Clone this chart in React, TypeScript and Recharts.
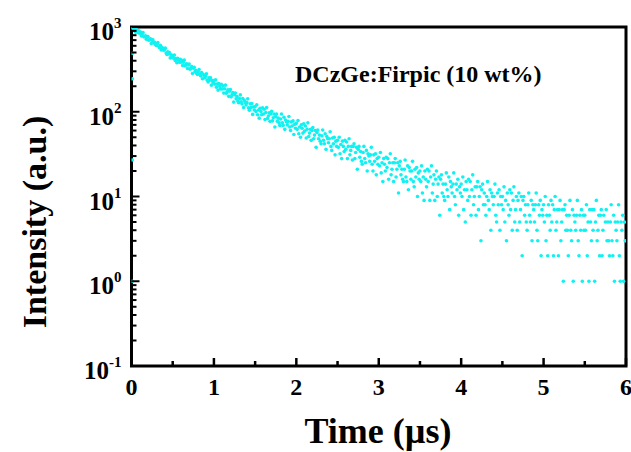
import React from 'react';
import { ScatterChart, Scatter, XAxis, YAxis, ReferenceArea } from 'recharts';

// Time axis of the decay (µs)
const timeUs: number[] = [
  0,0.01,0.02,0.03,0.04,0.05,0.06,0.07,0.08,0.09,
  0.1,0.11,0.12,0.13,0.14,0.15,0.16,0.17,0.18,0.19,
  0.2,0.21,0.22,0.23,0.24,0.25,0.26,0.27,0.28,0.29,
  0.3,0.31,0.32,0.33,0.34,0.35,0.36,0.37,0.38,0.39,
  0.4,0.41,0.42,0.43,0.44,0.45,0.46,0.47,0.48,0.49,
  0.5,0.51,0.52,0.53,0.54,0.55,0.56,0.57,0.58,0.59,
  0.6,0.61,0.62,0.63,0.64,0.65,0.66,0.67,0.68,0.69,
  0.7,0.71,0.72,0.73,0.74,0.75,0.76,0.77,0.78,0.79,
  0.8,0.81,0.82,0.83,0.84,0.85,0.86,0.87,0.88,0.89,
  0.9,0.91,0.92,0.93,0.94,0.95,0.96,0.97,0.98,0.99,
  1,1.01,1.02,1.03,1.04,1.05,1.06,1.07,1.08,1.09,
  1.1,1.11,1.12,1.13,1.14,1.15,1.16,1.17,1.18,1.19,
  1.2,1.21,1.22,1.23,1.24,1.25,1.26,1.27,1.28,1.29,
  1.3,1.31,1.32,1.33,1.34,1.35,1.36,1.37,1.38,1.39,
  1.4,1.41,1.42,1.43,1.44,1.45,1.46,1.47,1.48,1.49,
  1.5,1.51,1.52,1.53,1.54,1.55,1.56,1.57,1.58,1.59,
  1.6,1.61,1.62,1.63,1.64,1.65,1.66,1.67,1.68,1.69,
  1.7,1.71,1.72,1.73,1.74,1.75,1.76,1.77,1.78,1.79,
  1.8,1.81,1.82,1.83,1.84,1.85,1.86,1.87,1.88,1.89,
  1.9,1.91,1.92,1.93,1.94,1.95,1.96,1.97,1.98,1.99,
  2,2.01,2.02,2.03,2.04,2.05,2.06,2.07,2.08,2.09,
  2.1,2.11,2.12,2.13,2.14,2.15,2.16,2.17,2.18,2.19,
  2.2,2.21,2.22,2.23,2.24,2.25,2.26,2.27,2.28,2.29,
  2.3,2.31,2.32,2.33,2.34,2.35,2.36,2.37,2.38,2.39,
  2.4,2.41,2.42,2.43,2.44,2.45,2.46,2.47,2.48,2.49,
  2.5,2.51,2.52,2.53,2.54,2.55,2.56,2.57,2.58,2.59,
  2.6,2.61,2.62,2.63,2.64,2.65,2.66,2.67,2.68,2.69,
  2.7,2.71,2.72,2.73,2.74,2.75,2.76,2.77,2.78,2.79,
  2.8,2.81,2.82,2.83,2.84,2.85,2.86,2.87,2.88,2.89,
  2.9,2.91,2.92,2.93,2.94,2.95,2.96,2.97,2.98,2.99,
  3,3.01,3.02,3.03,3.04,3.05,3.06,3.07,3.08,3.09,
  3.1,3.11,3.12,3.13,3.14,3.15,3.16,3.17,3.18,3.19,
  3.2,3.21,3.22,3.23,3.24,3.25,3.26,3.27,3.28,3.29,
  3.3,3.31,3.32,3.33,3.34,3.35,3.36,3.37,3.38,3.39,
  3.4,3.41,3.42,3.43,3.44,3.45,3.46,3.47,3.48,3.49,
  3.5,3.51,3.52,3.53,3.54,3.55,3.56,3.57,3.58,3.59,
  3.6,3.61,3.62,3.63,3.64,3.65,3.66,3.67,3.68,3.69,
  3.7,3.71,3.72,3.73,3.74,3.75,3.76,3.77,3.78,3.79,
  3.8,3.81,3.82,3.83,3.84,3.85,3.86,3.87,3.88,3.89,
  3.9,3.91,3.92,3.93,3.94,3.95,3.96,3.97,3.98,3.99,
  4,4.01,4.02,4.03,4.04,4.05,4.06,4.07,4.08,4.09,
  4.1,4.11,4.12,4.13,4.14,4.15,4.16,4.17,4.18,4.19,
  4.2,4.21,4.22,4.23,4.24,4.25,4.26,4.27,4.28,4.29,
  4.3,4.31,4.32,4.33,4.34,4.35,4.36,4.37,4.38,4.39,
  4.4,4.41,4.42,4.43,4.44,4.45,4.46,4.47,4.48,4.49,
  4.5,4.51,4.52,4.53,4.54,4.55,4.56,4.57,4.58,4.59,
  4.6,4.61,4.62,4.63,4.64,4.65,4.66,4.67,4.68,4.69,
  4.7,4.71,4.72,4.73,4.74,4.75,4.76,4.77,4.78,4.79,
  4.8,4.81,4.82,4.83,4.84,4.85,4.86,4.87,4.88,4.89,
  4.9,4.91,4.92,4.93,4.94,4.95,4.96,4.97,4.98,4.99,
  5,5.01,5.02,5.03,5.04,5.05,5.06,5.07,5.08,5.09,
  5.1,5.11,5.12,5.13,5.14,5.15,5.16,5.17,5.18,5.19,
  5.2,5.21,5.22,5.23,5.24,5.25,5.26,5.27,5.28,5.29,
  5.3,5.31,5.32,5.33,5.34,5.35,5.36,5.37,5.38,5.39,
  5.4,5.41,5.42,5.43,5.44,5.45,5.46,5.47,5.48,5.49,
  5.5,5.51,5.52,5.53,5.54,5.55,5.56,5.57,5.58,5.59,
  5.6,5.61,5.62,5.63,5.64,5.65,5.66,5.67,5.68,5.69,
  5.7,5.71,5.72,5.73,5.74,5.75,5.76,5.77,5.78,5.79,
  5.8,5.81,5.82,5.83,5.84,5.85,5.86,5.87,5.88,5.89,
  5.9,5.91,5.92,5.93,5.94,5.95,5.96,5.97,5.98,5.99,
];

// Photon counts per channel (a.u.)
const counts: number[] = [
  990,969,995,916,942,866,932,893,855,900,
  842,869,784,825,858,765,773,788,718,763,
  771,698,711,726,638,696,704,648,661,623,
  604,630,655,593,571,607,535,577,558,531,
  541,563,494,474,509,481,501,432,470,446,
  461,429,466,403,425,379,427,405,383,417,
  384,406,352,383,408,348,356,368,324,356,
  365,317,328,342,283,326,334,297,308,285,
  275,296,315,276,264,291,245,277,266,251,
  263,281,236,225,252,235,252,206,234,221,
  234,212,238,195,212,180,215,200,186,211,
  186,202,166,187,206,165,172,181,152,175,
  183,150,159,169,130,159,166,142,151,134,
  128,143,158,131,124,143,112,136,129,120,
  128,142,111,104,124,112,125,93,114,105,
  115,101,121,92,105,84,110,101,92,111,
  94,107,81,98,112,83,89,97,77,94,
  101,78,85,94,66,88,94,77,84,74,
  69,82,94,74,69,86,62,80,76,70,
  77,88,66,60,76,68,78,54,71,64,
  73,62,79,55,66,50,70,64,56,72,
  59,68,49,62,74,51,56,62,46,60,
  65,48,53,60,38,57,61,48,53,45,
  42,52,61,46,42,55,36,51,48,43,
  48,58,39,35,49,42,50,31,45,39,
  46,38,50,32,41,28,45,39,34,46,
  36,44,28,39,48,31,35,39,27,39,
  42,28,33,38,21,36,39,29,34,26,
  24,33,39,28,25,35,20,32,30,26,
  31,38,24,20,31,26,32,18,28,24,
  29,23,33,19,25,15,28,24,20,29,
  22,28,16,25,32,18,21,25,15,25,
  28,17,21,25,11,23,26,18,21,16,
  15,21,27,17,15,23,12,22,20,16,
  20,26,15,13,21,17,22,10,19,16,
  20,15,23,11,17,9,20,16,13,21,
  15,20,9,17,23,11,14,18,9,16,
  20,10,14,17,6,16,18,11,14,10,
  9,14,19,12,10,17,7,15,13,11,
  14,19,10,8,14,12,16,6,13,11,
  14,10,17,7,12,5,15,12,9,16,
  10,15,6,12,18,8,10,13,6,13,
  15,7,10,13,3,12,14,8,11,8,
  6,10,15,9,7,12,4,11,10,8,
  10,14,6,5,11,8,12,4,10,8,
  10,7,13,5,9,3,11,8,6,12,
  7,11,4,9,13,5,7,10,4,9,
  11,5,7,10,2,9,10,6,8,5,
  4,8,11,6,5,9,3,8,7,5,
  8,11,4,3,8,6,9,2,7,6,
  8,5,10,3,6,2,8,6,4,9,
  5,8,2,7,10,4,5,7,2,7,
  9,3,5,7,1,7,8,4,6,4,
  2,6,9,4,3,7,1,6,5,4,
  6,9,3,2,6,4,7,1,6,4,
  6,4,8,2,5,1,7,5,3,7,
  4,7,1,5,9,3,4,6,2,6,
  7,2,4,6,0,5,7,3,5,3,
  2,5,8,3,2,6,1,5,4,3,
  5,8,2,1,5,4,6,1,5,3,
];

// Rising-edge points recorded at the start of the pulse
const riseTimeUs: number[] = [0.01, 0.01, 0.01, 0.01];
const riseCounts: number[] = [490, 245, 27, 1];

const xTicks: number[] = [0, 0.5, 1, 1.5, 2, 2.5, 3, 3.5, 4, 4.5, 5, 5.5, 6];
const xLabeledTicks: number[] = [0, 1, 2, 3, 4, 5, 6];
const yMajorTicks: number[] = [0.1, 1, 10, 100, 1000];
const yExponents: string[] = ['-1', '0', '1', '2', '3'];
const yMinorTicks: number[] = [
  0.2, 0.3, 0.4, 0.5, 0.6, 0.7, 0.8, 0.9,
  2, 3, 4, 5, 6, 7, 8, 9,
  20, 30, 40, 50, 60, 70, 80, 90,
  200, 300, 400, 500, 600, 700, 800, 900,
];
const yTicks: number[] = [...yMajorTicks, ...yMinorTicks].sort((a, b) => a - b);

const TITLE = 'DCzGe:Firpic (10 wt%)';
const X_TITLE = 'Time (µs)';
const Y_TITLE = 'Intensity (a.u.)';

const FONT = "'Liberation Serif', 'Times New Roman', Times, serif";
const CYAN = '#10f2f2';

const decayData = timeUs
  .map((t, i) => ({ t, c: counts[i] }))
  .filter((d) => d.c > 0);
const riseData = riseTimeUs.map((t, i) => ({ t, c: riseCounts[i] }));

const XTick = (props: any) => {
  const { x, y, payload } = props;
  const v = payload.value;
  const major = xLabeledTicks.indexOf(v) >= 0;
  return (
    <g>
      <line x1={x} x2={x} y1={y} y2={y - (major ? 8 : 5)} stroke="#000" strokeWidth={2.5} />
      {major && (
        <text x={x} y={y + 29} textAnchor="middle" fontFamily={FONT} fontWeight="bold" fontSize={24} fill="#000">
          {String(v)}
        </text>
      )}
    </g>
  );
};

const YTick = (props: any) => {
  const { x, y, payload } = props;
  const v = payload.value;
  const idx = yMajorTicks.indexOf(v);
  const major = idx >= 0;
  return (
    <g>
      <line x1={x} x2={x + (major ? 8 : 5)} y1={y} y2={y} stroke="#000" strokeWidth={2} />
      {major && (
        <text x={x - 10} y={y + 13} textAnchor="end" fontFamily={FONT} fontWeight="bold" fontSize={25} fill="#000">
          <tspan>10</tspan>
          <tspan dy={-12} fontSize={15}>{yExponents[idx]}</tspan>
        </text>
      )}
    </g>
  );
};

const Dot = (p: any) => <circle cx={p.cx} cy={p.cy} r={1.8} fill={CYAN} />;

export default function App() {
  return (
    <div style={{ position: 'absolute', left: 0, top: 0, width: 631, height: 452, background: '#fff' }}>
      <ScatterChart width={631} height={452} margin={{ top: 27, right: 5, bottom: 26, left: 41.5 }}>
        <XAxis
          type="number"
          dataKey="t"
          domain={[0, 6]}
          ticks={xTicks}
          interval={0}
          allowDataOverflow
          axisLine={false}
          tickLine={false}
          tickSize={0}
          tickMargin={0}
          height={60}
          tick={<XTick />}
          label={() => (
            <text x={378} y={443} textAnchor="middle" fontFamily={FONT} fontWeight="bold" fontSize={36} fill="#000">
              {X_TITLE}
            </text>
          )}
        />
        <YAxis
          type="number"
          dataKey="c"
          scale="log"
          domain={[0.1, 1000]}
          ticks={yTicks}
          interval={0}
          allowDataOverflow
          axisLine={false}
          tickLine={false}
          tickSize={0}
          tickMargin={0}
          width={90}
          tick={<YTick />}
          label={() => (
            <text
              x={46}
              y={222}
              transform="rotate(-90, 46, 222)"
              textAnchor="middle"
              fontFamily={FONT}
              fontWeight="bold"
              fontSize={34}
              fill="#000"
            >
              {Y_TITLE}
            </text>
          )}
        />
        <Scatter data={decayData} isAnimationActive={false} shape={Dot} />
        <Scatter data={riseData} isAnimationActive={false} shape={Dot} />
        <ReferenceArea
          x1={0}
          x2={6}
          y1={0.1}
          y2={1000}
          fill="none"
          fillOpacity={0}
          stroke="#000"
          strokeWidth={3}
          label={() => (
            <text x={295} y={82} fontFamily={FONT} fontWeight="bold" fontSize={24} fill="#000">
              {TITLE}
            </text>
          )}
        />
      </ScatterChart>
    </div>
  );
}
